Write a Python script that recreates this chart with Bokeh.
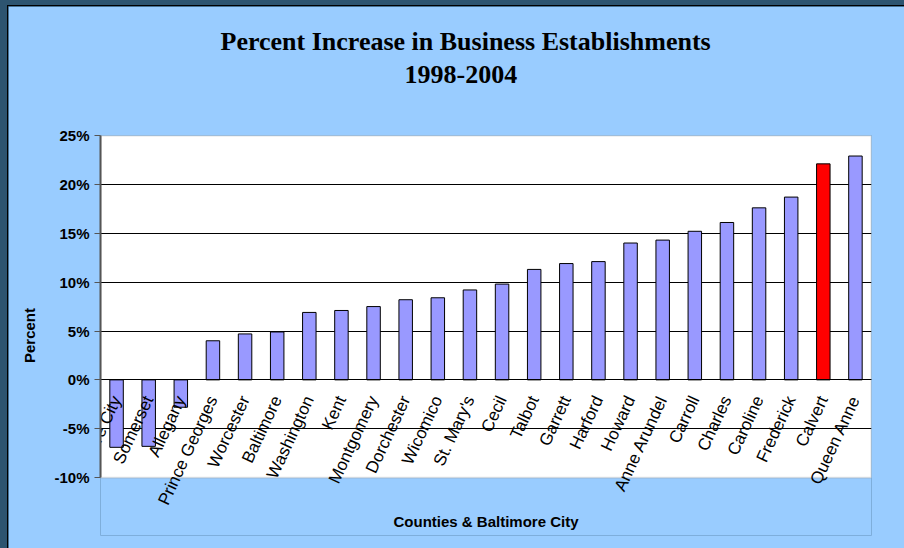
import math
from bokeh.plotting import figure
from bokeh.models import (ColumnDataSource, Title, FactorRange, Range1d, BoxAnnotation,
                          FixedTicker, PrintfTickFormatter)
from bokeh.layouts import column
from bokeh.embed import file_html
from bokeh.resources import INLINE

counties = ["Baltimore City", "Somerset", "Allegany", "Prince Georges", "Worcester",
            "Baltimore", "Washington", "Kent", "Montgomery", "Dorchester", "Wicomico",
            "St. Mary's", "Cecil", "Talbot", "Garrett", "Harford", "Howard",
            "Anne Arundel", "Carroll", "Charles", "Caroline", "Frederick", "Calvert",
            "Queen Anne"]
values = [-6.9, -6.8, -2.8, 4.0, 4.7, 4.9, 6.9, 7.1, 7.5, 8.2, 8.4, 9.2, 9.8, 11.3,
          11.9, 12.1, 14.0, 14.3, 15.2, 16.1, 17.6, 18.7, 22.1, 22.9]
highlight = "Calvert"
y_ticks = [-10, -5, 0, 5, 10, 15, 20, 25]
title_text = "Percent Increase in Business Establishments"
subtitle_text = "1998-2004"
x_title = "Counties & Baltimore City"
y_title = "Percent"

colors = ["#FF0000" if c == highlight else "#9999FF" for c in counties]
src = ColumnDataSource(dict(x=counties, top=values, color=colors))

W, H = 897, 543
BG = "#99CCFF"
# the frame reaches below -10% so the hanging category labels are not clipped;
# the white plot area itself spans -10% .. 25%
p = figure(x_range=FactorRange(*counties), y_range=Range1d(-15.92, 25),
           width=W, height=H, output_backend="svg", toolbar_location=None,
           min_border_left=92, min_border_right=34, min_border_top=129,
           min_border_bottom=14)
p.margin = (5, 0, 0, 7)
p.styles = {"border-left": "1px solid black", "border-top": "1px solid black"}
p.border_fill_color = BG
p.background_fill_color = BG
p.outline_line_color = None

p.add_layout(BoxAnnotation(bottom=y_ticks[0], top=y_ticks[-1], fill_color="white",
                           fill_alpha=1, line_color="#A0A0A0", line_width=2,
                           level="image"))

p.vbar(x="x", top="top", bottom=0, width=0.42, fill_color="color",
       line_color="black", line_width=1, source=src)

# category axis drawn along the zero line
xa = p.xaxis[0]
xa.fixed_location = 0
xa.major_label_orientation = math.radians(65)
xa.major_label_text_font = "Liberation Sans"
xa.major_label_text_font_size = "17px"
xa.major_label_text_color = "black"
xa.major_label_standoff = 17
xa.major_tick_out = 0
xa.major_tick_in = 0
xa.minor_tick_line_color = None
xa.axis_line_color = "black"
xa.axis_line_width = 1
xa.axis_label = x_title
xa.axis_label_text_font = "Liberation Sans"
xa.axis_label_text_font_style = "bold"
xa.axis_label_text_font_size = "15px"
xa.axis_label_text_color = "black"
xa.axis_label_standoff = -2

p.xgrid.visible = False
p.ygrid.ticker = FixedTicker(ticks=y_ticks[1:-1])
p.ygrid.grid_line_color = "black"
p.ygrid.grid_line_width = 1
p.yaxis.ticker = FixedTicker(ticks=y_ticks)
p.yaxis.bounds = (y_ticks[0], y_ticks[-1])
p.yaxis.formatter = PrintfTickFormatter(format="%d%%")
p.yaxis.major_label_text_font = "Liberation Sans"
p.yaxis.major_label_text_font_style = "bold"
p.yaxis.major_label_text_font_size = "15px"
p.yaxis.major_label_text_color = "black"
p.yaxis.minor_tick_line_color = None
p.yaxis.major_tick_out = 6
p.yaxis.major_tick_in = 0
p.yaxis.major_tick_line_color = "#555555"
p.yaxis.axis_line_color = "#555555"
p.yaxis.axis_line_width = 2
p.yaxis.major_label_standoff = 5
p.yaxis.axis_label = y_title
p.yaxis.axis_label_text_font = "Liberation Sans"
p.yaxis.axis_label_text_font_style = "bold"
p.yaxis.axis_label_text_font_size = "15px"
p.yaxis.axis_label_text_color = "black"
p.yaxis.axis_label_standoff = 13

title_style = dict(text_font="Liberation Serif", text_font_style="bold",
                   text_font_size="26px", text_color="black")
# blank spacer between the plot area and the subtitle
p.add_layout(Title(text=" ", standoff=18, **title_style), "above")
p.add_layout(Title(text=subtitle_text, align="left", offset=304, standoff=8,
                   **title_style), "above")
p.title = Title(text=title_text, align="left", offset=120, standoff=8, **title_style)

layout = column(p, styles={"background-color": "#2D5470"}, width=904, height=548)
open("out.html", "w").write(file_html(layout, INLINE))
